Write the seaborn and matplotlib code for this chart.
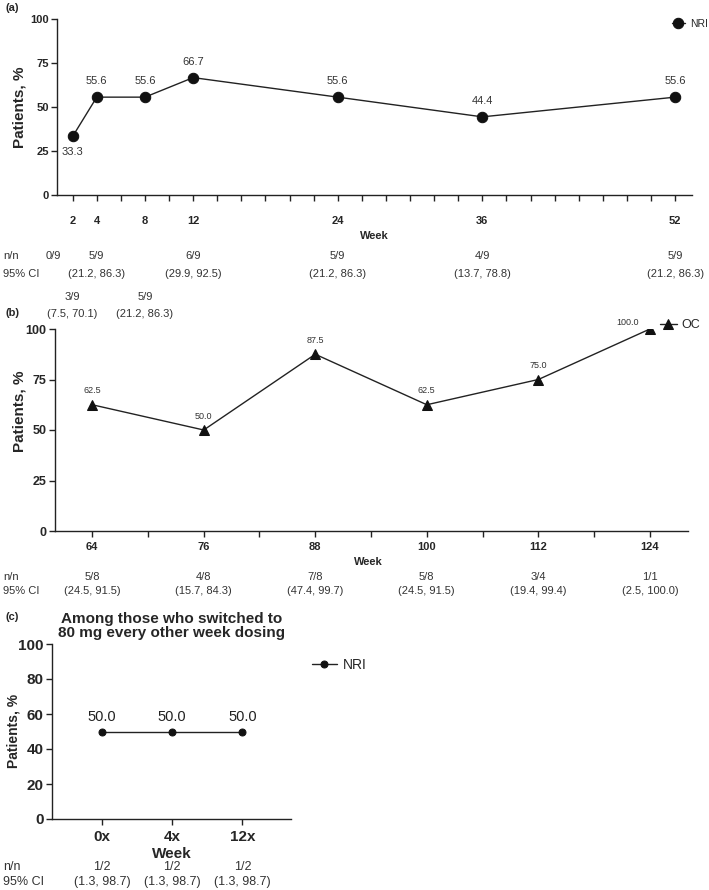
import matplotlib
matplotlib.use("Agg")
import matplotlib.pyplot as plt
import matplotlib.transforms as mtransforms
import seaborn as sns
import pandas as pd

sns.set_theme(style="ticks")
plt.rcParams['font.family'] = ['Liberation Sans', 'DejaVu Sans']

# ---------------- data ----------------
# Panel (a)
a_weeks = [2, 4, 8, 12, 24, 36, 52]
a_values = [33.3, 55.6, 55.6, 66.7, 55.6, 44.4, 55.6]
a_tick_labels = [2, 4, 8, 12, 24, 36, 52]
a_table_weeks = [0, 2, 4, 8, 12, 24, 36, 52]
a_table_nn = ["0/9", "3/9", "5/9", "5/9", "6/9", "5/9", "4/9", "5/9"]
a_table_ci = ["", "(7.5, 70.1)", "(21.2, 86.3)", "(21.2, 86.3)", "(29.9, 92.5)",
              "(21.2, 86.3)", "(13.7, 78.8)", "(21.2, 86.3)"]
a_table_row = [1, 2, 1, 2, 1, 1, 1, 1]

# Panel (b)
b_weeks = [64, 76, 88, 100, 112, 124]
b_values = [62.5, 50.0, 87.5, 62.5, 75.0, 100.0]
b_table_nn = ["5/8", "4/8", "7/8", "5/8", "3/4", "1/1"]
b_table_ci = ["(24.5, 91.5)", "(15.7, 84.3)", "(47.4, 99.7)", "(24.5, 91.5)",
              "(19.4, 99.4)", "(2.5, 100.0)"]

# Panel (c)
c_weeks = ["0x", "4x", "12x"]
c_values = [50.0, 50.0, 50.0]
c_table_nn = ["1/2", "1/2", "1/2"]
c_table_ci = ["(1.3, 98.7)", "(1.3, 98.7)", "(1.3, 98.7)"]

W, H = 709, 890
fig = plt.figure(figsize=(W / 100, H / 100), dpi=100)


def rect(left, top, right, bottom):
    return [left / W, 1 - bottom / H, (right - left) / W, (bottom - top) / H]


def fy(y):
    return 1 - y / H


def style_axes(ax, tick_len=4):
    sns.despine(ax=ax)
    for s in ("left", "bottom"):
        ax.spines[s].set_linewidth(1.0)
        ax.spines[s].set_color("#222222")
    ax.tick_params(axis="both", length=tick_len, width=1.0, color="#222222",
                   direction="out")


TXT = "#333333"

# ---------------- panel (a) ----------------
axa = fig.add_axes(rect(57, 19, 692, 195))
df_a = pd.DataFrame({"Week": a_weeks, "Pct": a_values})
sns.lineplot(data=df_a, x="Week", y="Pct", ax=axa, color="#222222", marker="o",
             markersize=7.5, markeredgecolor="#111111", markerfacecolor="#111111",
             linewidth=1.0, label="NRI")
axa.set_xlim(0.7, 53.4)
axa.set_ylim(0, 100)
axa.set_yticks([0, 25, 50, 75, 100])
axa.set_xticks(list(range(2, 53, 2)))
axa.set_xticklabels([str(t) if t in a_tick_labels else "" for t in range(2, 53, 2)])
style_axes(axa)
axa.tick_params(axis="x", pad=11)
axa.tick_params(axis="y", pad=2)
for lab in axa.get_xticklabels() + axa.get_yticklabels():
    lab.set_fontsize(8)
    lab.set_fontweight("bold")
axa.set_xlabel("")
axa.set_ylabel("Patients, %", fontsize=11, fontweight="bold")
axa.yaxis.set_label_coords(26 / W, fy(107), transform=fig.transFigure)
for w, v in zip(a_weeks, a_values):
    off = -16 if w == 2 else 16
    axa.annotate(f"{v:.1f}", (w, v), xytext=(0, off * 0.72), textcoords="offset points",
                 ha="center", va="center", fontsize=8, color=TXT)
leg = axa.legend(loc="center left", bbox_to_anchor=(667 / W, fy(24)),
                 bbox_transform=fig.transFigure, frameon=False, fontsize=7.5,
                 handlelength=1.2, handletextpad=0.5, borderpad=0)
fig.text(374 / W, fy(236), "Week", ha="center", va="center", fontsize=8, fontweight="bold")
fig.text(3 / W, fy(256), "n/n", ha="left", va="center", fontsize=8, color=TXT)
fig.text(3 / W, fy(274), "95% CI", ha="left", va="center", fontsize=8, color=TXT)
tra = mtransforms.blended_transform_factory(axa.transData, fig.transFigure)
for w, nn, ci, r in zip(a_table_weeks, a_table_nn, a_table_ci, a_table_row):
    xw = 0.43 if w == 0 else w
    y1, y2 = (256, 274) if r == 1 else (297, 314)
    fig.text(xw, fy(y1), nn, transform=tra, ha="center", va="center", fontsize=8, color=TXT)
    if ci:
        fig.text(xw, fy(y2), ci, transform=tra, ha="center", va="center", fontsize=8, color=TXT)
fig.text(5 / W, fy(8), "(a)", ha="left", va="center", fontsize=8, fontweight="bold")

# ---------------- panel (b) ----------------
axb = fig.add_axes(rect(55, 329, 688, 531))
df_b = pd.DataFrame({"Week": b_weeks, "Pct": b_values})
sns.lineplot(data=df_b, x="Week", y="Pct", ax=axb, color="#222222", marker="^",
             markersize=6.5, markeredgecolor="#111111", markerfacecolor="#111111",
             linewidth=1.0, label="OC")
axb.set_xlim(60.0, 128.1)
axb.set_ylim(0, 100)
axb.set_yticks([0, 25, 50, 75, 100])
axb.set_xticks(list(range(64, 125, 6)))
axb.set_xticklabels([str(t) if t in b_weeks else "" for t in range(64, 125, 6)])
style_axes(axb)
axb.tick_params(axis="x", pad=4)
axb.tick_params(axis="y", pad=2)
for lab in axb.get_xticklabels():
    lab.set_fontsize(8)
    lab.set_fontweight("bold")
for lab in axb.get_yticklabels():
    lab.set_fontsize(9)
    lab.set_fontweight("bold")
axb.set_xlabel("")
axb.set_ylabel("Patients, %", fontsize=11, fontweight="bold")
axb.yaxis.set_label_coords(26 / W, fy(411), transform=fig.transFigure)
for w, v in zip(b_weeks, b_values):
    if v == 100.0:
        axb.annotate(f"{v:.1f}", (w, v), xytext=(-16, 5), textcoords="offset points",
                     ha="center", va="center", fontsize=6.5, color=TXT)
    else:
        axb.annotate(f"{v:.1f}", (w, v), xytext=(0, 10), textcoords="offset points",
                     ha="center", va="center", fontsize=6.5, color=TXT)
axb.legend(loc="center left", bbox_to_anchor=(654 / W, fy(325)),
           bbox_transform=fig.transFigure, frameon=False, fontsize=9,
           handlelength=1.3, handletextpad=0.4, borderpad=0)
fig.text(368 / W, fy(562), "Week", ha="center", va="center", fontsize=8, fontweight="bold")
fig.text(3 / W, fy(577), "n/n", ha="left", va="center", fontsize=8, color=TXT)
fig.text(3 / W, fy(591), "95% CI", ha="left", va="center", fontsize=8, color=TXT)
trb = mtransforms.blended_transform_factory(axb.transData, fig.transFigure)
for w, nn, ci in zip(b_weeks, b_table_nn, b_table_ci):
    fig.text(w, fy(577), nn, transform=trb, ha="center", va="center", fontsize=8, color=TXT)
    fig.text(w, fy(591), ci, transform=trb, ha="center", va="center", fontsize=8, color=TXT)
fig.text(5 / W, fy(313), "(b)", ha="left", va="center", fontsize=8, fontweight="bold")

# ---------------- panel (c) ----------------
axc = fig.add_axes(rect(52, 644, 291, 819))
df_c = pd.DataFrame({"Week": c_weeks, "Pct": c_values})
sns.lineplot(data=df_c, x="Week", y="Pct", ax=axc, color="#222222", marker="o",
             markersize=5, markeredgecolor="#111111", markerfacecolor="#111111",
             linewidth=1.0, label="NRI", sort=False)
axc.set_xlim(-0.71, 2.69)
axc.set_ylim(0, 100)
axc.set_yticks([0, 20, 40, 60, 80, 100])
style_axes(axc, tick_len=4)
axc.tick_params(axis="x", pad=4)
axc.tick_params(axis="y", pad=2)
for lab in axc.get_xticklabels() + axc.get_yticklabels():
    lab.set_fontsize(11)
    lab.set_fontweight("bold")
axc.set_xlabel("Week", fontsize=11, fontweight="bold", labelpad=2)
axc.set_ylabel("Patients, %", fontsize=10, fontweight="bold")
axc.yaxis.set_label_coords(20 / W, fy(731), transform=fig.transFigure)
for i, v in enumerate(c_values):
    axc.annotate(f"{v:.1f}", (i, v), xytext=(0, 10.5), textcoords="offset points",
                 ha="center", va="center", fontsize=10.5, color="#222222")
axc.legend(loc="center left", bbox_to_anchor=(305 / W, fy(665)),
           bbox_transform=fig.transFigure, frameon=False, fontsize=10,
           handlelength=1.8, handletextpad=0.4, borderpad=0)
axc.set_title("Among those who switched to\n80 mg every other week dosing",
              fontsize=11, fontweight="bold", pad=5, linespacing=1.05)
fig.text(3 / W, fy(867), "n/n", ha="left", va="center", fontsize=9, color=TXT)
fig.text(3 / W, fy(882), "95% CI", ha="left", va="center", fontsize=9, color=TXT)
trc = mtransforms.blended_transform_factory(axc.transData, fig.transFigure)
for i, (nn, ci) in enumerate(zip(c_table_nn, c_table_ci)):
    fig.text(i, fy(867), nn, transform=trc, ha="center", va="center", fontsize=9, color=TXT)
    fig.text(i, fy(882), ci, transform=trc, ha="center", va="center", fontsize=9, color=TXT)
fig.text(5 / W, fy(617), "(c)", ha="left", va="center", fontsize=8, fontweight="bold")

fig.savefig("out.png", dpi=100)
